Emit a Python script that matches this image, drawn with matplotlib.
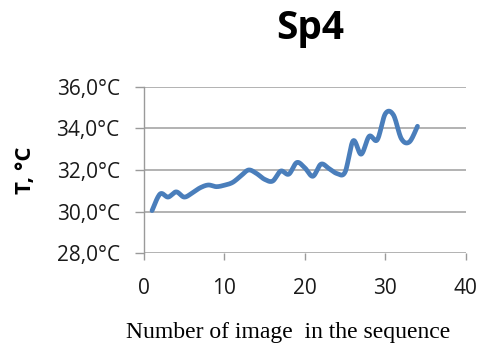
import numpy as np
import matplotlib
matplotlib.use("Agg")
import matplotlib.pyplot as plt
from matplotlib.ticker import FuncFormatter

# data
image_number = list(range(1, 35))
temperature = [30.05, 30.85, 30.7, 30.95, 30.7, 30.9, 31.15, 31.28, 31.2, 31.27,
               31.4, 31.7, 32.0, 31.83, 31.55, 31.47, 31.95, 31.8, 32.36, 32.1,
               31.7, 32.28, 32.07, 31.83, 31.9, 33.4, 32.76, 33.62, 33.45, 34.7,
               34.65, 33.5, 33.35, 34.1]
title = "Sp4"
x_label = "Number of image  in the sequence"
y_label = "T, °C"
x_ticks = [0, 10, 20, 30, 40]
y_ticks = [28, 30, 32, 34, 36]


def smooth(x, y, n=20):
    """Catmull-Rom rendering of a smoothed line (Excel-style)."""
    x = np.asarray(x, float); y = np.asarray(y, float)
    P = np.column_stack([x, y])
    P = np.vstack([P[0], P, P[-1]])
    out = []
    t = np.linspace(0, 1, n, endpoint=False)
    for i in range(1, len(P) - 2):
        p0, p1, p2, p3 = P[i - 1], P[i], P[i + 1], P[i + 2]
        m1 = (p2 - p0) / 2
        m2 = (p3 - p1) / 2
        h00 = 2 * t**3 - 3 * t**2 + 1
        h10 = t**3 - 2 * t**2 + t
        h01 = -2 * t**3 + 3 * t**2
        h11 = t**3 - t**2
        seg = (h00[:, None] * p1 + h10[:, None] * m1 +
               h01[:, None] * p2 + h11[:, None] * m2)
        out.append(seg)
    out.append(P[-2][None, :])
    out = np.vstack(out)
    return out[:, 0], out[:, 1]


fig = plt.figure(figsize=(4.86, 3.49), dpi=100)
ax = fig.add_axes([0.2963, 0.2742, 0.662, 0.4774])

sx, sy = smooth(image_number, temperature)
ax.plot(sx, sy, color="#4a7ebb", lw=3.4, solid_capstyle="round", zorder=3)

ax.set_xlim(0, 40)
ax.set_ylim(28, 36)
ax.set_xticks(x_ticks)
ax.set_yticks(y_ticks)
ax.yaxis.set_major_formatter(FuncFormatter(lambda v, p: f"{v:.1f}".replace(".", ",") + "°C"))

ax.grid(axis="y", color="#a6a6a6", lw=1.2)
ax.set_axisbelow(True)
for s in ["top", "right", "bottom"]:
    ax.spines[s].set_visible(False)
ax.spines["left"].set_color("#9a9a9a")
ax.spines["left"].set_linewidth(1.0)

ax.tick_params(axis="y", direction="out", length=6.5, width=1.0, color="#9a9a9a",
               pad=11, labelsize=15)
ax.tick_params(axis="x", direction="out", length=5, width=1.0, color="#9a9a9a",
               pad=13, labelsize=15)
for lab in ax.get_xticklabels() + ax.get_yticklabels():
    lab.set_fontfamily("Open Sans")
    lab.set_color("#1a1a1a")

fig.text(0.638, 0.918, title, ha="center", va="center", fontsize=28,
         fontweight="bold", family="Open Sans")
fig.text(0.593, 0.046, x_label, ha="center", va="center", fontsize=17,
         family="Liberation Serif")
fig.text(0.053, 0.512, y_label, ha="center", va="center", fontsize=16,
         fontweight="bold", family="Open Sans", rotation=90)

fig.savefig("out.png", dpi=100)
